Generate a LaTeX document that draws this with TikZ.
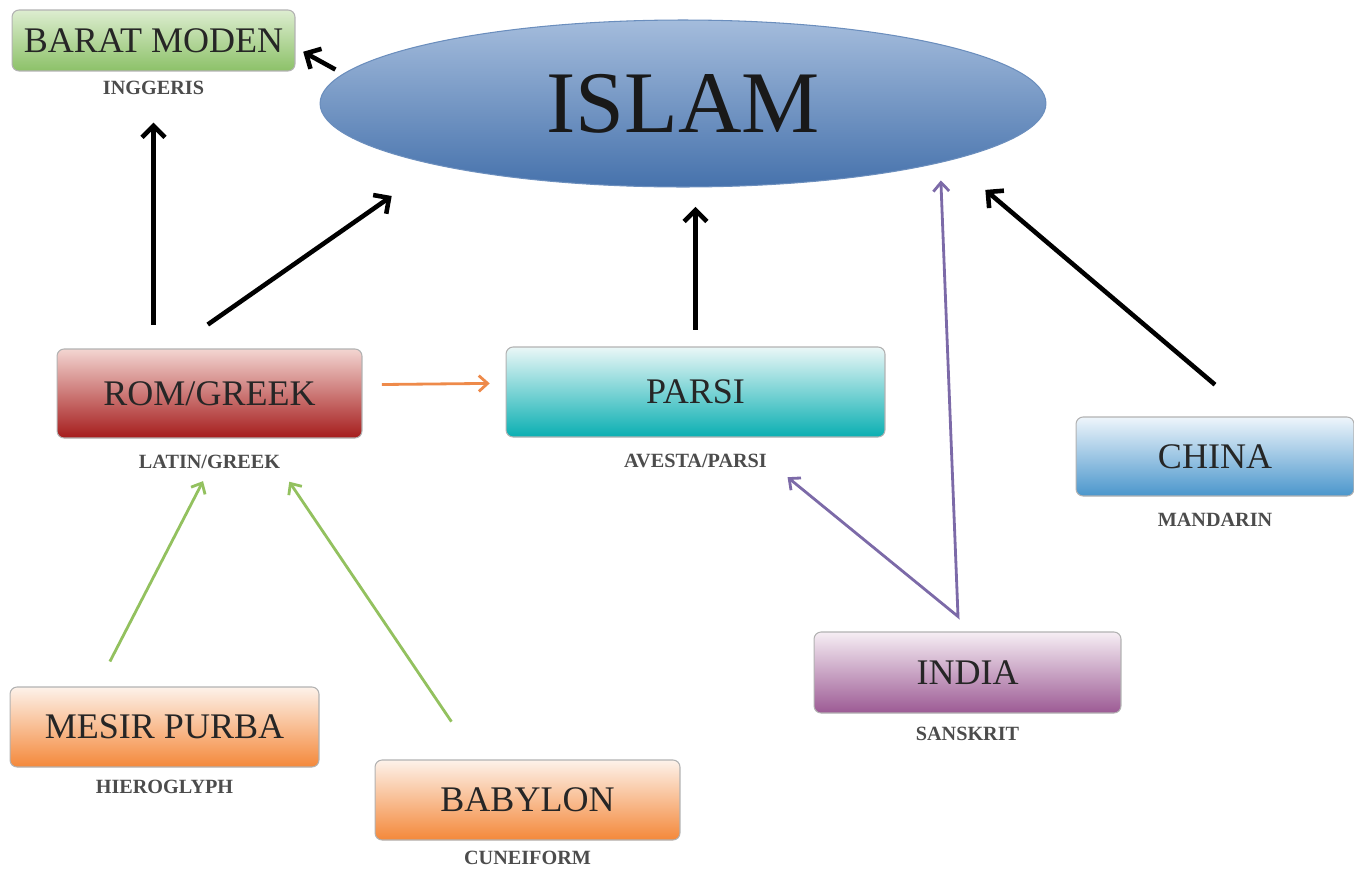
\documentclass[tikz,border=0pt]{standalone}
\usepackage{fontspec}
\setmainfont{Liberation Serif}
\usetikzlibrary{arrows.meta,positioning,shapes.geometric}
\definecolor{verdeA}{HTML}{DDEDD0}
\definecolor{verdeB}{HTML}{8CC168}
\definecolor{rossoA}{HTML}{F3D5D1}
\definecolor{rossoB}{HTML}{A51C1C}
\definecolor{tealA}{HTML}{EAF7F7}
\definecolor{tealB}{HTML}{0AAFB2}
\definecolor{bluA}{HTML}{EEF5FB}
\definecolor{bluB}{HTML}{4A96CC}
\definecolor{violaA}{HTML}{F6EEF4}
\definecolor{violaB}{HTML}{9C5A94}
\definecolor{aranA}{HTML}{FDF2EA}
\definecolor{aranB}{HTML}{F4883A}
\definecolor{islamA}{HTML}{A4BCDC}
\definecolor{islamB}{HTML}{4672AC}
\definecolor{frecciaVerde}{HTML}{93C15F}
\definecolor{frecciaViola}{HTML}{7C6AA8}
\definecolor{frecciaArancio}{HTML}{EE8A4A}
\tikzset{
  box/.style={draw=black!30, rounded corners=4pt, line width=0.6pt, inner sep=0pt,
    text=black!85, font=\fontsize{20.5}{24}\selectfont},
  lbl/.style={inner sep=0pt, text=black!70, font=\fontsize{11.5}{13}\selectfont\bfseries},
  nera/.style={line width=2.6pt, >={Straight Barb[length=6.5pt,width=13pt]}},
  fine/.style={line width=1.6pt, >={Straight Barb[length=5pt,width=9pt]}},
}

\begin{document}
\begin{tikzpicture}[x=0.02cm, y=-0.02cm]
    \useasboundingbox (0,0) rectangle (1354,869);
    % Disegna l'ellisse
    \node[ellipse, draw=islamB!80, line width=0.6pt, top color=islamA, bottom color=islamB,
      minimum width=14.52cm, minimum height=3.34cm, inner sep=0pt, text=black!90,
      font=\fontsize{50}{56}\selectfont] (islam) at (683,103.5) {ISLAM};
    % Disegna i riquadri
    \node[box, top color=verdeA, bottom color=verdeB, minimum width=5.66cm, minimum height=1.22cm] (barat) at (153.5,40.5) {BARAT MODEN};
    \node[box, top color=rossoA, bottom color=rossoB, minimum width=6.1cm, minimum height=1.78cm] (rom) at (209.5,393.5) {ROM/GREEK};
    \node[box, top color=tealA, bottom color=tealB, minimum width=7.58cm, minimum height=1.8cm] (parsi) at (695.5,392) {PARSI};
    \node[box, top color=bluA, bottom color=bluB, minimum width=5.56cm, minimum height=1.58cm] (china) at (1215,456.5) {CHINA};
    \node[box, top color=violaA, bottom color=violaB, minimum width=6.14cm, minimum height=1.62cm] (india) at (967.5,672.5) {INDIA};
    \node[box, top color=aranA, bottom color=aranB, minimum width=6.18cm, minimum height=1.6cm] (mesir) at (164.5,727) {MESIR PURBA};
    \node[box, top color=aranA, bottom color=aranB, minimum width=6.1cm, minimum height=1.6cm] (babylon) at (527.5,800) {BABYLON};
    % Disegna le scritte sotto
    \node[lbl, below=5pt of barat] (baratlbl) {INGGERIS};
    \node[lbl, below=9pt of rom] (romlbl) {LATIN/GREEK};
    \node[lbl, below=9pt of parsi] (parsilbl) {AVESTA/PARSI};
    \node[lbl, below=9pt of china] (chinalbl) {MANDARIN};
    \node[lbl, below=7.4pt of india] (indialbl) {SANSKRIT};
    \node[lbl, below=7pt of mesir] (mesirlbl) {HIEROGLYPH};
    \node[lbl, below=6pt of babylon] (babylonlbl) {CUNEIFORM};
    % Disegna le frecce nere
    \draw[nera, ->, shorten <=5pt, shorten >=5pt] (islam.175) -- ([yshift=-4pt]barat.east);
    \draw[nera, ->, shorten <=13.6pt, shorten >=16pt] (rom.north -| baratlbl.south) -- (baratlbl.south);
    \draw[nera, ->, shorten <=23.8pt, shorten >=30.7pt] ([xshift=-0.72cm]rom.north) -- (islam.194);
    \draw[nera, ->, shorten <=9.6pt, shorten >=11pt] (parsi.north) -- (parsi.north |- islam.south);
    \draw[nera, ->, shorten <=28pt, shorten >=26pt] ([xshift=0.75cm]china.north) -- (islam.348);
    % Disegna le frecce colorate
    \draw[fine, ->, frecciaArancio, shorten <=11pt, shorten >=9pt] ([yshift=5pt]rom.east) -- ([yshift=5pt]parsi.west);
    \coordinate (vindia) at ([shift={(-9.5,-15)}]india.north);
    \draw[fine, <->, frecciaViola, shorten <=15pt, shorten >=10pt] (parsilbl.east) -- (vindia) -- (islam.347);
    \draw[fine, ->, frecciaVerde, shorten <=16pt, shorten >=8pt] ([xshift=-1.35cm]mesir.north) -- (romlbl.south);
    \draw[fine, ->, frecciaVerde, shorten <=26pt, shorten >=9pt] ([xshift=-1.01cm]babylon.north) -- (romlbl.south east);
\end{tikzpicture}
\end{document}
